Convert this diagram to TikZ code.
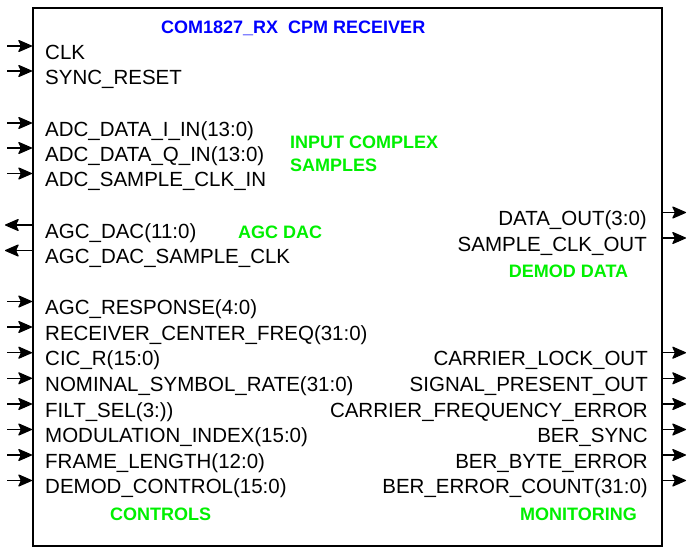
\documentclass[tikz,border=0pt]{standalone}
\usepackage{fontspec}
\setmainfont{Liberation Sans}
\usepackage{xcolor}
\usetikzlibrary{arrows.meta}
\definecolor{titleblue}{RGB}{0,0,255}
\definecolor{groupgreen}{RGB}{0,240,0}
\tikzset{
    block-box/.style = {draw=black, fill=white, line width=1.5pt, rectangle, minimum width=629pt, minimum height=538pt, inner sep=0pt},
    block-title/.style = {anchor=base west, inner sep=0pt, text=titleblue, font=\bfseries\fontsize{18}{22}\selectfont},
    port-in/.style = {anchor=base west, inner sep=0pt, font=\fontsize{20.5}{24}\selectfont},
    port-out/.style = {anchor=base east, inner sep=0pt, font=\fontsize{20.5}{24}\selectfont},
    group-title/.style = {anchor=base west, inner sep=0pt, text=groupgreen, font=\bfseries\fontsize{18}{22}\selectfont},
    pin-arrow/.style = {line width=1.1pt, -{Stealth[length=15pt, width=13pt, inset=3pt, round]}},
}

\begin{document}
\begin{tikzpicture}[x=1pt, y=-1pt]
\useasboundingbox (0,0) rectangle (687,546);
\node[block-box, anchor=north west] (box) at (32,7) {};
\node[block-title] (title) at (161,33.3) {COM1827\_RX\ \ CPM RECEIVER};

% inputs and outputs on the left
\node[port-in] (clk) at (45,59) {CLK};
\node[port-in] (sync-reset) at (45,84) {SYNC\_RESET};
\node[port-in] (adc-i) at (45,136) {ADC\_DATA\_I\_IN(13:0)};
\node[port-in] (adc-q) at (45,161) {ADC\_DATA\_Q\_IN(13:0)};
\node[port-in] (adc-clk) at (45,186.5) {ADC\_SAMPLE\_CLK\_IN};
\node[port-in] (agc-dac) at (45,238) {AGC\_DAC(11:0)};
\node[port-in] (agc-clk) at (45,263.5) {AGC\_DAC\_SAMPLE\_CLK};
\node[port-in] (agc-resp) at (45,314.5) {AGC\_RESPONSE(4:0)};
\node[port-in] (rx-freq) at (45,340) {RECEIVER\_CENTER\_FREQ(31:0)};
\node[port-in] (cic-r) at (45,365.7) {CIC\_R(15:0)};
\node[port-in] (sym-rate) at (45,391.3) {NOMINAL\_SYMBOL\_RATE(31:0)};
\node[port-in] (filt-sel) at (45,417) {FILT\_SEL(3:))};
\node[port-in] (mod-index) at (45,442.5) {MODULATION\_INDEX(15:0)};
\node[port-in] (frame-len) at (45,468) {FRAME\_LENGTH(12:0)};
\node[port-in] (demod-ctrl) at (45,493.5) {DEMOD\_CONTROL(15:0)};

% outputs on the right
\node[port-out] (data-out) at (647,225.5) {DATA\_OUT(3:0)};
\node[port-out] (sample-clk-out) at (647,251) {SAMPLE\_CLK\_OUT};
\node[port-out] (carrier-lock) at (648,365.7) {CARRIER\_LOCK\_OUT};
\node[port-out] (signal-present) at (648,391.3) {SIGNAL\_PRESENT\_OUT};
\node[port-out] (carrier-err) at (648,417) {CARRIER\_FREQUENCY\_ERROR};
\node[port-out] (ber-sync) at (648,442.5) {BER\_SYNC};
\node[port-out] (ber-byte) at (648,468) {BER\_BYTE\_ERROR};
\node[port-out] (ber-count) at (648,493.5) {BER\_ERROR\_COUNT(31:0)};

% group titles
\node[group-title] (grp-input) at (290,148.3) {INPUT COMPLEX};
\node[group-title] (grp-samples) at (290,171.7) {SAMPLES};
\node[group-title] (grp-agc) at (238,238.3) {AGC DAC};
\node[group-title, anchor=base] (grp-demod) at (568.5,277.3) {DEMOD DATA};
\node[group-title] (grp-controls) at (110,520) {CONTROLS};
\node[group-title] (grp-monitor) at (520,520) {MONITORING};

% pins
\coordinate (clk-pin) at (7,46);
\coordinate (sync-reset-pin) at (7,71);
\coordinate (adc-i-pin) at (7,123);
\coordinate (adc-q-pin) at (7,148);
\coordinate (adc-clk-pin) at (7,173.5);
\coordinate (agc-dac-pin) at (5,225);
\coordinate (agc-clk-pin) at (5,250.5);
\coordinate (agc-resp-pin) at (7,301.5);
\coordinate (rx-freq-pin) at (7,327);
\coordinate (cic-r-pin) at (7,352.7);
\coordinate (sym-rate-pin) at (7,378.3);
\coordinate (filt-sel-pin) at (7,404);
\coordinate (mod-index-pin) at (7,429.5);
\coordinate (frame-len-pin) at (7,455);
\coordinate (demod-ctrl-pin) at (7,480.5);
\coordinate (data-out-pin) at (686,212.5);
\coordinate (sample-clk-out-pin) at (686,238);
\coordinate (carrier-lock-pin) at (686,352.7);
\coordinate (signal-present-pin) at (686,378.3);
\coordinate (carrier-err-pin) at (686,404);
\coordinate (ber-sync-pin) at (686,429.5);
\coordinate (ber-byte-pin) at (686,455);
\coordinate (ber-count-pin) at (686,480.5);

\draw[pin-arrow] (clk-pin) -- (clk-pin -| box.west);
\draw[pin-arrow] (sync-reset-pin) -- (sync-reset-pin -| box.west);
\draw[pin-arrow] (adc-i-pin) -- (adc-i-pin -| box.west);
\draw[pin-arrow] (adc-q-pin) -- (adc-q-pin -| box.west);
\draw[pin-arrow] (adc-clk-pin) -- (adc-clk-pin -| box.west);
\draw[pin-arrow] (agc-dac-pin -| box.west) -- (agc-dac-pin);
\draw[pin-arrow] (agc-clk-pin -| box.west) -- (agc-clk-pin);
\draw[pin-arrow] (agc-resp-pin) -- (agc-resp-pin -| box.west);
\draw[pin-arrow] (rx-freq-pin) -- (rx-freq-pin -| box.west);
\draw[pin-arrow] (cic-r-pin) -- (cic-r-pin -| box.west);
\draw[pin-arrow] (sym-rate-pin) -- (sym-rate-pin -| box.west);
\draw[pin-arrow] (filt-sel-pin) -- (filt-sel-pin -| box.west);
\draw[pin-arrow] (mod-index-pin) -- (mod-index-pin -| box.west);
\draw[pin-arrow] (frame-len-pin) -- (frame-len-pin -| box.west);
\draw[pin-arrow] (demod-ctrl-pin) -- (demod-ctrl-pin -| box.west);
\draw[pin-arrow] (data-out-pin -| box.east) -- (data-out-pin);
\draw[pin-arrow] (sample-clk-out-pin -| box.east) -- (sample-clk-out-pin);
\draw[pin-arrow] (carrier-lock-pin -| box.east) -- (carrier-lock-pin);
\draw[pin-arrow] (signal-present-pin -| box.east) -- (signal-present-pin);
\draw[pin-arrow] (carrier-err-pin -| box.east) -- (carrier-err-pin);
\draw[pin-arrow] (ber-sync-pin -| box.east) -- (ber-sync-pin);
\draw[pin-arrow] (ber-byte-pin -| box.east) -- (ber-byte-pin);
\draw[pin-arrow] (ber-count-pin -| box.east) -- (ber-count-pin);
\end{tikzpicture}
\end{document}
